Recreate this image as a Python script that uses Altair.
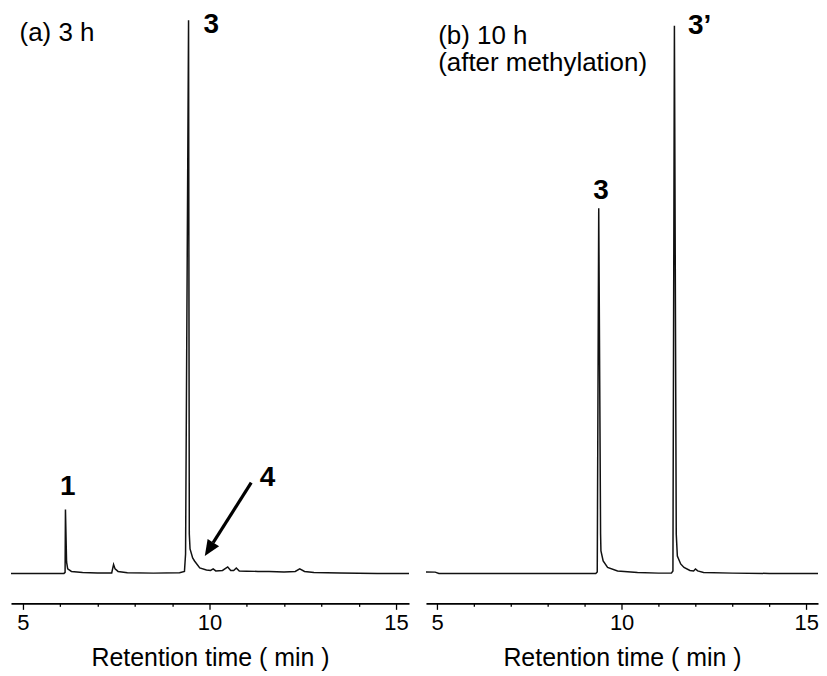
import altair as alt
import pandas as pd

# ---------------- data ----------------
# Panel (a) 3 h : retention time (min) and detector signal (baseline = 0)
a_time = [4.68, 5.0, 5.4, 5.8, 6.10, 6.13, 6.14, 6.17, 6.20, 6.30, 6.60, 7.00, 7.38, 7.43,
          7.47, 7.55, 7.80, 8.50, 9.20, 9.33, 9.36, 9.44, 9.46, 9.48, 9.55, 9.60, 9.74,
          9.92, 10.03, 10.10, 10.17, 10.35, 10.49, 10.57, 10.65, 10.72, 10.80, 11.00,
          11.30, 11.60, 12.00, 12.30, 12.42, 12.55, 12.80, 13.50, 14.50, 15.35]
a_signal = [0.5, 0.3, 0.5, 0.3, 0.5, 1.5, 64.5, 12, 5, 2.5, 1.5, 1.0, 1.0, 9.5,
            5, 2.5, 1.2, 0.8, 1.2, 2.5, 20, 555, 40, 25, 16, 13, 6,
            4, 3.5, 5, 3, 3.5, 7, 3.5, 3.5, 6, 3, 2.8,
            2.5, 2.5, 2, 2.5, 5, 2.5, 1.5, 1, 0.5, 0.5]

# Panel (b) 10 h (after methylation)
b_time = [4.70, 4.95, 5.05, 6.0, 7.0, 8.0, 9.0, 9.30, 9.34, 9.38, 9.43, 9.44, 9.50, 9.62,
          9.89, 10.43, 11.00, 11.35, 11.39, 11.43, 11.48, 11.51, 11.60, 11.69, 11.85,
          11.95, 12.00, 12.06, 12.22, 13.00, 14.00, 15.32]
b_signal = [2, 1.8, 0.5, 0.3, 0.3, 0.5, 0.3, 0.5, 2, 366.5, 40, 23, 13, 6.5,
            3, 1.5, 0.8, 0.8, 3, 549.5, 40, 18, 10, 6.5, 3.5,
            3, 5, 3, 1.5, 0.8, 0.5, 0.5]

# peak labels
a_lab_text = ["1", "3", "4"]
a_lab_time = [6.20, 10.05, 11.56]
a_lab_sig = [87.5, 550, 96]
b_lab_text = ["3", "3\u2019"]
b_lab_time = [9.44, 11.80]
b_lab_sig = [383.5, 549.5]

# panel captions
a_cap_text = ["(a) 3 h"]
a_cap_time = [4.91]
a_cap_sig = [542]
b_cap_text = ["(b) 10 h", "(after methylation)"]
b_cap_time = [5.03, 5.03]
b_cap_sig = [539, 512]

# arrow pointing at peak 4 (shaft start, shaft end, head centre)
arrow_t = [11.12, 10.10]
arrow_s = [91.5, 31.3]
head_t = [9.99]
head_s = [24.6]

# ---------------- chart ----------------
FONT = "Liberation Sans"
YDOM = [-29.5, 566.5]
H = 596


def panel(times, sig, lab_t, lab_s, lab_txt, cap_t, cap_s, cap_txt, xdom, width,
          label_align, arrow=False):
    xenc = alt.X(
        "t:Q",
        scale=alt.Scale(domain=xdom, nice=False, zero=False),
        axis=alt.Axis(
            values=list(range(5, 16)),
            labelExpr="datum.value % 5 === 0 ? datum.label : ''",
            tickSize={"condition": {"test": "datum.value % 5 === 0", "value": 6}, "value": 3},
            title="Retention time ( min )",
        ),
    )
    yenc = alt.Y("s:Q", scale=alt.Scale(domain=YDOM, nice=False, zero=False), axis=None)

    line = alt.Chart(pd.DataFrame({"t": times, "s": sig})).mark_line(
        color="#111111", strokeWidth=1.5, clip=True
    ).encode(x=xenc, y=yenc)

    lab_df = pd.DataFrame({"t": lab_t, "s": lab_s, "txt": lab_txt, "al": label_align})
    labels = []
    for al in sorted(set(label_align)):
        labels.append(
            alt.Chart(lab_df[lab_df["al"] == al]).mark_text(
                font=FONT, fontSize=28, fontWeight="bold", color="black",
                baseline="middle", align=al
            ).encode(x=xenc, y=yenc, text="txt:N")
        )

    caps = alt.Chart(pd.DataFrame({"t": cap_t, "s": cap_s, "txt": cap_txt})).mark_text(
        font=FONT, fontSize=26, color="black", baseline="middle", align="left"
    ).encode(x=xenc, y=yenc, text="txt:N")

    layers = [line] + labels + [caps]
    if arrow:
        shaft = alt.Chart(pd.DataFrame({
            "t": [arrow_t[0]], "s": [arrow_s[0]], "t2": [arrow_t[1]], "s2": [arrow_s[1]]
        })).mark_rule(color="black", strokeWidth=3.2).encode(
            x=xenc, y=yenc, x2="t2:Q", y2="s2:Q"
        )
        head = alt.Chart(pd.DataFrame({"t": head_t, "s": head_s})).mark_point(
            shape="M0,-1L0.85,1L-0.85,1Z", filled=True, color="black",
            opacity=1, size=256, angle=212.4
        ).encode(x=xenc, y=yenc)
        layers += [shaft, head]
    return alt.layer(*layers).properties(width=width, height=H)


pa = panel(a_time, a_signal, a_lab_time, a_lab_sig, a_lab_text,
           a_cap_time, a_cap_sig, a_cap_text, [4.68, 15.35], 399,
           ["center", "center", "center"], arrow=True)
pb = panel(b_time, b_signal, b_lab_time, b_lab_sig, b_lab_text,
           b_cap_time, b_cap_sig, b_cap_text, [4.70, 15.32], 393,
           ["center", "left"])

chart = alt.hconcat(pa, pb, spacing=17).properties(
    padding={"left": 3, "top": 0, "right": 0, "bottom": 0}
).configure_view(stroke=None).configure_axis(
    grid=False,
    domainColor="black",
    domainWidth=1.6,
    tickColor="black",
    tickWidth=1.3,
    labelFont=FONT,
    labelFontSize=22,
    labelColor="black",
    labelPadding=3,
    titleFont=FONT,
    titleFontSize=25,
    titleFontWeight="normal",
    titleColor="black",
    titlePadding=12,
)

chart.save("out.html", embed_options={"renderer": "svg", "actions": False})
